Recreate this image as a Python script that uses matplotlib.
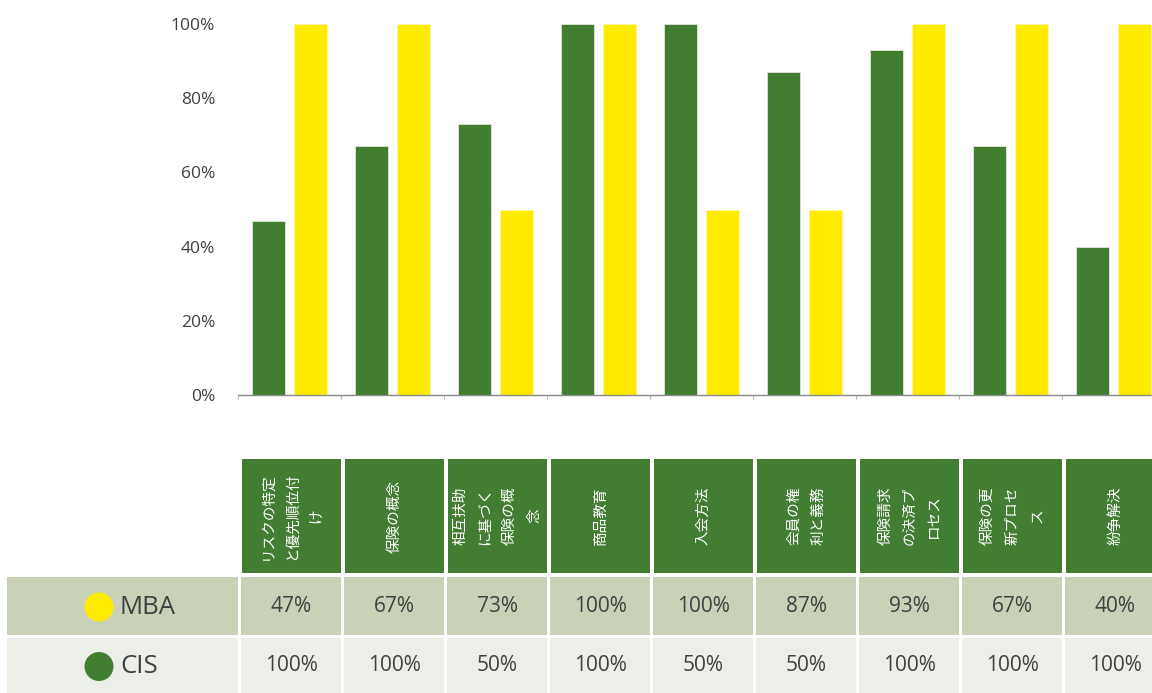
import matplotlib
matplotlib.use("Agg")
import matplotlib.pyplot as plt
from matplotlib.patches import Rectangle

plt.rcParams['font.family'] = ['Open Sans', 'Noto Sans CJK JP', 'DejaVu Sans']

categories = [
    "リスクの特定\nと優先順位付\nけ",
    "保険の概念",
    "相互扶助\nに基づく\n保険の概\n念",
    "商品教育",
    "入会方法",
    "会員の権\n利と義務",
    "保険請求\nの決済プ\nロセス",
    "保険の更\n新プロセ\nス",
    "紛争解決",
]
mba = [47, 67, 73, 100, 100, 87, 93, 67, 40]
cis = [100, 100, 50, 100, 50, 50, 100, 100, 100]
mba_labels = ["47%", "67%", "73%", "100%", "100%", "87%", "93%", "67%", "40%"]
cis_labels = ["100%", "100%", "50%", "100%", "50%", "50%", "100%", "100%", "100%"]
yticks = [0, 20, 40, 60, 80, 100]
ytick_labels = ["0%", "20%", "40%", "60%", "80%", "100%"]
series_names = ["MBA", "CIS"]

GREEN = "#417E32"
YELLOW = "#FFEB00"
ROW1 = "#C9D1B8"
ROW2 = "#ECEFE8"
TXT = "#404040"

W, H = 1152, 693
fig = plt.figure(figsize=(W / 100, H / 100), dpi=100)

# pixel geometry
x0_px, grp_px = 238, 103
n = len(categories)
left = x0_px / W
width = n * grp_px / W
y0_px, y100_px = 395, 24
ax = fig.add_axes([left, 1 - y0_px / H, width, (y0_px - y100_px) / H])

xs = list(range(n))
bw = 0.32
ax.bar([x + 0.5 - 0.2 for x in xs], mba, width=bw, color=GREEN,
       edgecolor="#dfe6da", linewidth=0.6, zorder=2)
ax.bar([x + 0.5 + 0.2 for x in xs], cis, width=bw, color=YELLOW,
       edgecolor="#fff6a0", linewidth=0.6, zorder=2)

ax.set_xlim(0, n)
ax.set_ylim(0, 100)
ax.set_yticks(yticks)
ax.set_yticklabels(ytick_labels, fontsize=12.5, color=TXT)
ax.tick_params(axis='y', length=0, pad=16.5)
ax.set_xticks(list(range(n + 1)))
ax.set_xticklabels([])
ax.tick_params(axis='x', length=3, color="#bbbbbb", width=0.8)
for s in ["top", "right", "left"]:
    ax.spines[s].set_visible(False)
ax.spines["bottom"].set_color("#8a8a8a")
ax.spines["bottom"].set_linewidth(1.0)

# table axes (x in category units, y in pixels)
tab_top = 458
ta = fig.add_axes([left, 0, width, (H - tab_top) / H])
ta.set_xlim(0, n)
ta.set_ylim(H, tab_top)
ta.axis("off")

gap = 4 / grp_px
hdr = (459, 573)
r1 = (577, 635)
r2 = (638, 693)
for i, cat in enumerate(categories):
    ta.add_patch(Rectangle((i + gap, hdr[0]), 1 - gap, hdr[1] - hdr[0],
                           facecolor=GREEN, edgecolor="none", clip_on=False))
    ta.text(i + 0.5 + gap / 2, (hdr[0] + hdr[1]) / 2, cat, rotation=90,
            ha="center", va="center", multialignment="center",
            color="white", fontsize=10.5,
            family=['Noto Sans CJK JP', 'DejaVu Sans'], linespacing=1.95,
            clip_on=False)
    ta.add_patch(Rectangle((i + 0.03, r1[0]), 1 - 0.03, r1[1] - r1[0],
                           facecolor=ROW1, edgecolor="none", clip_on=False))
    ta.add_patch(Rectangle((i + 0.03, r2[0]), 1 - 0.03, r2[1] - r2[0],
                           facecolor=ROW2, edgecolor="none", clip_on=False))
    ta.text(i + 0.5 + 0.015, (r1[0] + r1[1]) / 2, mba_labels[i], ha="center",
            va="center", fontsize=15, color=TXT, clip_on=False)
    ta.text(i + 0.5 + 0.015, (r2[0] + r2[1]) / 2, cis_labels[i], ha="center",
            va="center", fontsize=15, color=TXT, clip_on=False)

lab_x0 = (7 - x0_px) / grp_px
ta.add_patch(Rectangle((lab_x0, r1[0]), -lab_x0, r1[1] - r1[0],
                       facecolor=ROW1, edgecolor="none", clip_on=False))
ta.add_patch(Rectangle((lab_x0, r2[0]), -lab_x0, r2[1] - r2[0],
                       facecolor=ROW2, edgecolor="none", clip_on=False))
circ_x = (99 - x0_px) / grp_px
txt_x = (120 - x0_px) / grp_px
for (ya, yb), name, col in [(r1, series_names[0], YELLOW), (r2, series_names[1], GREEN)]:
    yc = (ya + yb) / 2
    ta.scatter([circ_x], [yc + 1], s=(29 * 0.72) ** 2, color=col,
               edgecolors="none", clip_on=False, zorder=3)
    ta.text(txt_x, yc + 1, name, ha="left", va="center", fontsize=18.5,
            color=TXT, clip_on=False)

fig.savefig("out.png", dpi=100)
